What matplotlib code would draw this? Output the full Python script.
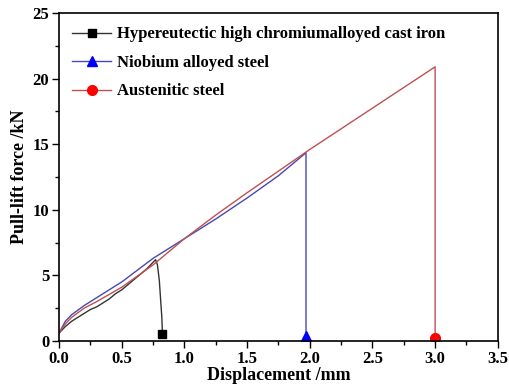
import matplotlib.pyplot as plt
from matplotlib.ticker import MultipleLocator

plt.rcParams['font.family'] = ['Liberation Serif', 'DejaVu Serif']
plt.rcParams['font.weight'] = 'bold'

# 位移-拉拔力数据
iron_x = [0.0, 0.05, 0.1, 0.15, 0.2, 0.25, 0.3, 0.35, 0.4, 0.45, 0.5, 0.6, 0.7, 0.77,
          0.785, 0.8, 0.81, 0.82, 0.825]
iron_y = [0.6, 1.1, 1.5, 1.8, 2.1, 2.4, 2.6, 2.9, 3.2, 3.6, 3.9, 4.7, 5.5, 6.2,
          5.8, 4.6, 3.2, 1.8, 0.5]
nb_x = [0.0, 0.05, 0.1, 0.2, 0.3, 0.5, 0.75, 1.0, 1.25, 1.5, 1.75, 1.97, 1.97]
nb_y = [0.6, 1.5, 2.0, 2.7, 3.3, 4.5, 6.3, 7.8, 9.3, 10.9, 12.6, 14.35, 0.35]
aus_x = [0.0, 0.05, 0.1, 0.2, 0.3, 0.5, 0.75, 1.0, 1.25, 1.5, 1.75, 2.0, 2.5, 3.0, 3.0]
aus_y = [0.6, 1.3, 1.8, 2.5, 3.0, 4.1, 5.8, 7.8, 9.6, 11.3, 12.95, 14.6, 17.75, 20.9, 0.2]

fig = plt.figure(figsize=(5.09, 3.84), dpi=100)
ax = fig.add_axes([0.116, 0.112, 0.862, 0.854])

ax.plot(iron_x, iron_y, color='#333333', lw=1.0, marker='s', markevery=[-1],
        mfc='black', mec='black', ms=6, label='Hypereutectic high chromiumalloyed cast iron')
ax.plot(nb_x, nb_y, color='#4848b0', lw=1.0, marker='^', markevery=[-1],
        mfc='#0000ff', mec='#0000ff', ms=7, label='Niobium alloyed steel')
ax.plot(aus_x, aus_y, color='#c05050', lw=1.0, marker='o', markevery=[-1],
        mfc='#ff0000', mec='#ff0000', ms=7, label='Austenitic steel')

ax.set_xlim(0, 3.5)
ax.set_ylim(0, 25)
ax.xaxis.set_major_locator(MultipleLocator(0.5))
ax.xaxis.set_minor_locator(MultipleLocator(0.25))
ax.yaxis.set_major_locator(MultipleLocator(5))
ax.yaxis.set_minor_locator(MultipleLocator(2.5))
ax.tick_params(which='both', direction='out', top=False, right=False, labelsize=12, pad=2)
ax.tick_params(which='major', length=5, width=1)
ax.tick_params(which='minor', length=3, width=1)
for s in ax.spines.values():
    s.set_linewidth(1.2)

ax.set_xlabel('Displacement /mm', fontsize=13, fontweight='bold', labelpad=0)
ax.set_ylabel('Pull-lift force /kN', fontsize=13, fontweight='bold', labelpad=3)

ax.legend(loc='upper left', frameon=False, handlelength=2.3,
          labelspacing=0.75, borderaxespad=0.4, handletextpad=0.35,
          prop={'weight': 'bold', 'size': 12})

plt.savefig('out.png', dpi=100)
